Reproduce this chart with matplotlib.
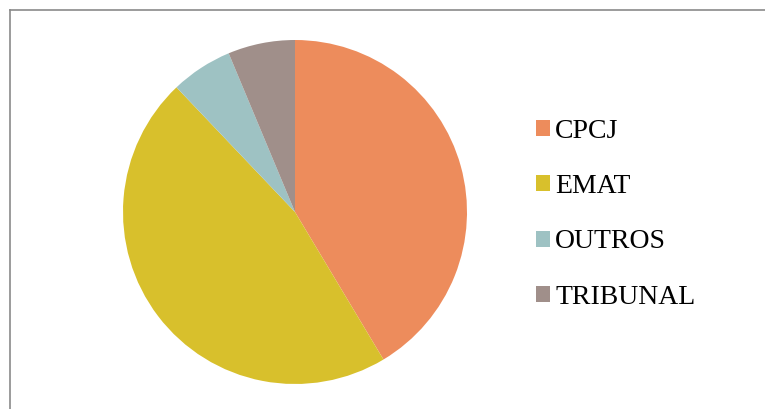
import matplotlib.pyplot as plt
from matplotlib.lines import Line2D
from matplotlib.patches import Patch

labels = ['CPCJ', 'EMAT', 'OUTROS', 'TRIBUNAL']
values = [41.4, 46.5, 5.8, 6.3]
colors = ['#ED8C5C', '#D8C02C', '#9EC2C3', '#A08F8A']

W, H = 765, 409
fig = plt.figure(figsize=(W / 100, H / 100), dpi=100)

# frame lines (left and top border of the scanned chart box)
fig.add_artist(Line2D([10 / W, 10 / W], [0, 1 - 10 / H], color='#8a8a8a', lw=1.2))
fig.add_artist(Line2D([10 / W, 1], [1 - 10 / H, 1 - 10 / H], color='#8a8a8a', lw=1.2))

# pie axes: centre (295, 212), radius 172 px
cx, cy, r = 295, 212, 172
ax = fig.add_axes([(cx - r) / W, (H - cy - r) / H, 2 * r / W, 2 * r / H])
ax.pie(values, colors=colors, startangle=90, counterclock=False,
       radius=1, wedgeprops=dict(linewidth=0))
ax.set_xlim(-1, 1)
ax.set_ylim(-1, 1)
ax.set_aspect('equal')
ax.axis('off')

handles = [Patch(facecolor=c, edgecolor='none') for c in colors]
leg = fig.legend(handles, labels, loc='upper left',
                 bbox_to_anchor=(522 / W, 1 - 105 / H),
                 frameon=False, prop={'family': 'Liberation Serif', 'size': 20},
                 handlelength=0.5, handleheight=0.5, handletextpad=0.2,
                 labelspacing=1.09, borderpad=0)

fig.savefig('out.png', dpi=100, facecolor='white')
